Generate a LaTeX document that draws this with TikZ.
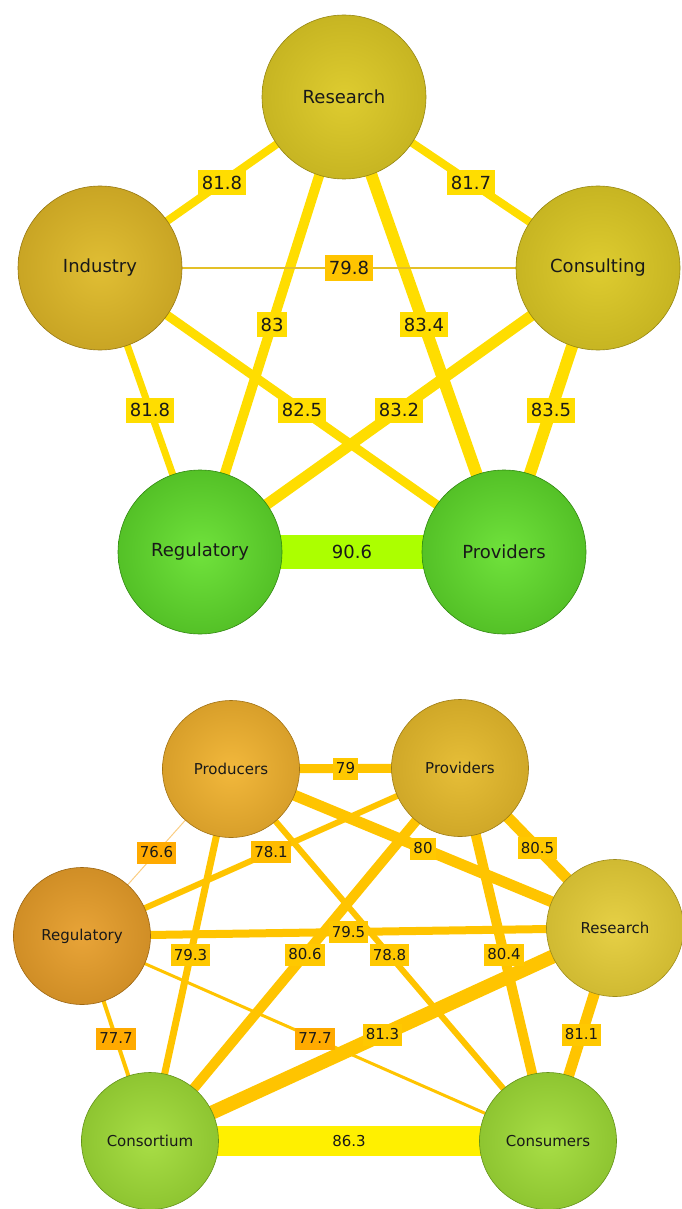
\documentclass[tikz,border=0pt]{standalone}
\usepackage{fontspec}
\setmainfont{DejaVu Sans}
\usepackage{tikz}

\definecolor{topedge}{RGB}{255,221,0}
\definecolor{toplow}{RGB}{255,196,0}
\definecolor{thinedge}{RGB}{228,192,40}
\definecolor{limeedge}{RGB}{172,255,0}
\definecolor{botedge}{RGB}{255,196,0}
\definecolor{botlbl}{RGB}{255,200,0}
\definecolor{botmid}{RGB}{255,188,0}
\definecolor{botlow}{RGB}{255,170,0}
\definecolor{faintedge}{RGB}{250,205,130}
\definecolor{yeledge}{RGB}{255,240,0}

% node fills (centre / rim)
\definecolor{oliveIn}{RGB}{222,204,48}    \definecolor{oliveOut}{RGB}{176,158,20}
\definecolor{goldIn}{RGB}{224,190,52}     \definecolor{goldOut}{RGB}{178,140,20}
\definecolor{greenIn}{RGB}{112,226,60}    \definecolor{greenOut}{RGB}{56,160,18}
\definecolor{amberIn}{RGB}{242,184,60}    \definecolor{amberOut}{RGB}{190,134,24}
\definecolor{brassIn}{RGB}{230,190,56}    \definecolor{brassOut}{RGB}{186,146,24}
\definecolor{copperIn}{RGB}{232,164,56}   \definecolor{copperOut}{RGB}{184,120,20}
\definecolor{strawIn}{RGB}{230,208,70}    \definecolor{strawOut}{RGB}{186,164,30}
\definecolor{limeIn}{RGB}{168,222,70}     \definecolor{limeOut}{RGB}{116,172,28}

\colorlet{bin}{white}
\colorlet{bout}{black}
\pgfdeclareradialshading[bin,bout]{orb}{\pgfpoint{0bp}{0bp}}{color(0bp)=(bin); color(50bp)=(bout)}

\pgfdeclarelayer{edges}
\pgfdeclarelayer{labels}
\pgfsetlayers{edges,labels,main}

\begin{document}
\begin{tikzpicture}[x=0.5pt,y=-0.5pt,
    orb/.style={circle, /utils/exec={\colorlet{bin}{#1In}\colorlet{bout}{#1Out}},
        shading=orb, draw=#1Out!85!black, line width=0.3pt, text=black!90},
    big/.style={minimum size=82pt, font=\fontsize{9}{10}\selectfont},
    small/.style={minimum size=68.5pt, font=\fontsize{7.5}{9}\selectfont},
    lbl/.style={inner xsep=2pt, inner ysep=0pt, minimum height=12.5pt, text=black!90,
        font=\fontsize{9}{10}\selectfont},
    slbl/.style={inner xsep=1.5pt, inner ysep=0pt, minimum height=11pt, text=black!90,
        font=\fontsize{7.5}{9}\selectfont},
    link/.style={shorten <=-2pt, shorten >=-2pt}]

\useasboundingbox (0,0) rectangle (681,1209);

% upper network
\node[orb=olive, big] (t-research) at (344,97) {Research};
\node[orb=gold, big] (t-industry) at (100,268) {Industry};
\node[orb=olive, big] (t-consulting) at (598,268) {Consulting};
\node[orb=green, big] (t-regulatory) at (200,552) {Regulatory};
\node[orb=green, big] (t-providers) at (504,552) {Providers};

\foreach \a/\b/\w/\c/\l/\f in {
    t-research/t-industry/4pt/topedge/81.8/topedge,
    t-research/t-consulting/4pt/topedge/81.7/topedge,
    t-research/t-regulatory/5pt/topedge/83/topedge,
    t-research/t-providers/6pt/topedge/83.4/topedge,
    t-industry/t-consulting/1pt/thinedge/79.8/toplow,
    t-industry/t-regulatory/3.5pt/topedge/81.8/topedge,
    t-industry/t-providers/4.5pt/topedge/82.5/topedge,
    t-consulting/t-regulatory/5.5pt/topedge/83.2/topedge,
    t-consulting/t-providers/6pt/topedge/83.5/topedge,
    t-regulatory/t-providers/17pt/limeedge/90.6/limeedge}
{
  \begin{pgfonlayer}{edges}
    \draw[link, line width=\w, draw=\c] (\a) -- (\b);
  \end{pgfonlayer}
  \begin{pgfonlayer}{labels}
    \path (\a) -- node[lbl, fill=\f] {\l} (\b);
  \end{pgfonlayer}
}

% lower network
\node[orb=amber, small] (b-producers) at (231,769) {Producers};
\node[orb=brass, small] (b-providers) at (460,768) {Providers};
\node[orb=copper, small] (b-regulatory) at (82,936) {Regulatory};
\node[orb=straw, small] (b-research) at (615,928) {Research};
\node[orb=lime, small] (b-consortium) at (150,1141) {Consortium};
\node[orb=lime, small] (b-consumers) at (548,1141) {Consumers};

\foreach \a/\b/\w/\c/\l/\f in {
    b-producers/b-providers/4.5pt/botedge/79/botlbl,
    b-producers/b-regulatory/0.5pt/faintedge/76.6/botlow,
    b-providers/b-regulatory/3pt/botedge/78.1/botmid,
    b-producers/b-research/5.5pt/botedge/80/botlbl,
    b-providers/b-research/5.5pt/botedge/80.5/botlbl,
    b-regulatory/b-research/4pt/botedge/79.5/botlbl,
    b-producers/b-consortium/3.5pt/botedge/79.3/botlbl,
    b-providers/b-consortium/5pt/botedge/80.6/botlbl,
    b-producers/b-consumers/3pt/botedge/78.8/botlbl,
    b-providers/b-consumers/5pt/botedge/80.4/botlbl,
    b-regulatory/b-consortium/2pt/botedge/77.7/botlow,
    b-regulatory/b-consumers/1.5pt/botedge/77.7/botlow,
    b-research/b-consortium/7pt/botedge/81.3/botlbl,
    b-research/b-consumers/5.5pt/botedge/81.1/botlbl,
    b-consortium/b-consumers/15pt/yeledge/86.3/yeledge}
{
  \begin{pgfonlayer}{edges}
    \draw[link, line width=\w, draw=\c] (\a) -- (\b);
  \end{pgfonlayer}
  \begin{pgfonlayer}{labels}
    \path (\a) -- node[slbl, fill=\f] {\l} (\b);
  \end{pgfonlayer}
}

\end{tikzpicture}
\end{document}
